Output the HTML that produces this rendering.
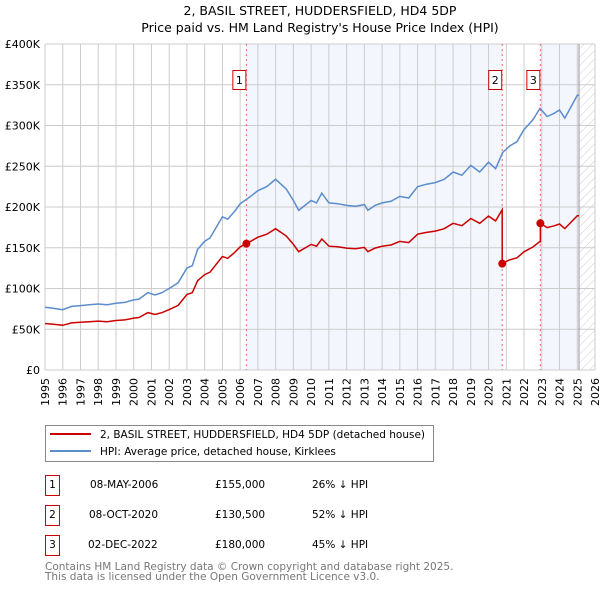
<!DOCTYPE html>
<html><head><meta charset="utf-8"><style>
body{margin:0;background:#fff;font-family:"DejaVu Sans","Liberation Sans",sans-serif;}
svg text{font-family:"DejaVu Sans","Liberation Sans",sans-serif;}
</style></head><body>
<svg id="chart" width="600" height="590" xmlns="http://www.w3.org/2000/svg">
<defs><pattern id="hatch" width="6" height="6" patternUnits="userSpaceOnUse" patternTransform="rotate(45)"><line x1="0" y1="0" x2="0" y2="6" stroke="#ccc" stroke-width="1"/></pattern></defs>
<text x="320" y="15" font-size="12.5" text-anchor="middle">2, BASIL STREET, HUDDERSFIELD, HD4 5DP</text>
<text x="320" y="32" font-size="12.5" text-anchor="middle">Price paid vs. HM Land Registry's House Price Index (HPI)</text>
<g id="plot"></g>
<rect x="45.5" y="425.5" width="388" height="36" fill="#fff" stroke="#888"/>
<line x1="50" y1="434" x2="91" y2="434" stroke="#cc0000" stroke-width="2"/>
<text x="100" y="438" font-size="10.5">2, BASIL STREET, HUDDERSFIELD, HD4 5DP (detached house)</text>
<line x1="50" y1="451" x2="91" y2="451" stroke="#5b8ccc" stroke-width="2"/>
<text x="100" y="455" font-size="10.5">HPI: Average price, detached house, Kirklees</text>
<g font-size="10.5">
<rect x="45.5" y="475.5" width="14" height="20" fill="#fff" stroke="#c00"/><text x="52.5" y="488" text-anchor="middle">1</text>
<text x="90" y="488">08-MAY-2006</text><text x="215" y="488">£155,000</text><text x="312" y="488">26% ↓ HPI</text>
<rect x="45.5" y="505.5" width="14" height="20" fill="#fff" stroke="#c00"/><text x="52.5" y="518" text-anchor="middle">2</text>
<text x="89" y="518">08-OCT-2020</text><text x="215" y="518">£130,500</text><text x="312" y="518">52% ↓ HPI</text>
<rect x="45.5" y="535.5" width="14" height="20" fill="#fff" stroke="#c00"/><text x="52.5" y="548" text-anchor="middle">3</text>
<text x="88" y="548">02-DEC-2022</text><text x="215" y="548">£180,000</text><text x="312" y="548">45% ↓ HPI</text>
</g>
<text x="45" y="570" font-size="10.5" fill="#777">Contains HM Land Registry data © Crown copyright and database right 2025.</text>
<text x="45" y="580" font-size="10.5" fill="#777">This data is licensed under the Open Government Licence v3.0.</text>
</svg>
<script>
const hpiYears=[1995,1995.4,1996,1996.5,1997,1997.5,1998,1998.5,1999,1999.5,2000,2000.3,2000.8,2001.2,2001.6,2002,2002.5,2003,2003.3,2003.6,2004,2004.3,2005,2005.3,2005.7,2006,2006.4,2007,2007.5,2008,2008.6,2009,2009.3,2010,2010.3,2010.6,2011,2011.5,2012,2012.5,2013,2013.2,2013.6,2014,2014.5,2015,2015.5,2016,2016.5,2017,2017.5,2018,2018.5,2019,2019.5,2020,2020.4,2020.8,2021.2,2021.6,2022,2022.5,2022.9,2023.3,2023.7,2024,2024.3,2025,2025.1];
const hpiValues=[77,76,74,78,79,80,81,80,82,83,86,87,95,92,95,100,107,125,128,148,158,162,188,185,195,204,210,220,225,234,222,208,196,208,205,217,205,204,202,201,203,196,202,205,207,213,211,225,228,230,234,243,239,251,243,255,247,267,275,280,295,307,321,311,315,319,309,337,337];
const saleYears=[2006.35,2020.77,2022.92];
const salePrices=[155,130.5,180];
const saleLabels=["1","2","3"];
const yTicks=[0,50,100,150,200,250,300,350,400];
const yTickLabels=["£0","£50K","£100K","£150K","£200K","£250K","£300K","£350K","£400K"];
const xYears=[];for(let y=1995;y<=2026;y++)xYears.push(y);

const X=y=>45+(y-1995)*550/31;
const Y=v=>370-v*326/400;
const NS="http://www.w3.org/2000/svg";
const g=document.getElementById('plot');
function mk(t,a){const e=document.createElementNS(NS,t);for(const k in a)e.setAttribute(k,a[k]);g.appendChild(e);return e;}
function hpiAt(t){for(let i=0;i<hpiYears.length-1;i++){if(t>=hpiYears[i]&&t<=hpiYears[i+1]){const f=(t-hpiYears[i])/(hpiYears[i+1]-hpiYears[i]);return hpiValues[i]+f*(hpiValues[i+1]-hpiValues[i]);}}return hpiValues[hpiValues.length-1];}

let r=mk('rect',{x:X(saleYears[0]),y:44,width:X(saleYears[1])-X(saleYears[0]),height:326,fill:'#eef2fc',opacity:0.7});

r=mk('rect',{x:X(saleYears[2]),y:44,width:X(2025.1)-X(saleYears[2]),height:326,fill:'#eef2fc',opacity:0.7});

r=mk('rect',{x:X(2025.1),y:44,width:X(2026)-X(2025.1),height:326,fill:'url(#hatch)'});


xYears.forEach(yr=>{
 const l=mk('line',{x1:X(yr),x2:X(yr),y1:44,y2:370,stroke:'#ccc','stroke-width':1});
 
 const t=mk('text',{x:0,y:0,'font-size':11,'text-anchor':'end',transform:`translate(${X(yr)+4},378) rotate(-90)`});
 t.textContent=yr;
 
});
yTicks.forEach((v,i)=>{
 const l=mk('line',{x1:45,x2:595,y1:Y(v),y2:Y(v),stroke:'#ccc','stroke-width':1});
 
 const t=mk('text',{x:40,y:Y(v)+4,'font-size':11,'text-anchor':'end'});
 t.textContent=yTickLabels[i];
 
});
let b=mk('line',{x1:X(2025.1),x2:X(2025.1),y1:44,y2:370,stroke:'#999','stroke-width':1});


saleYears.forEach((s,i)=>{
 const l=mk('line',{x1:X(s),x2:X(s),y1:44,y2:370,stroke:'#e66','stroke-width':1,'stroke-dasharray':'2,3'});
 
});

let d='';hpiYears.forEach((y,i)=>{d+=(i?'L':'M')+X(y).toFixed(1)+','+Y(hpiValues[i]).toFixed(1);});
let p=mk('path',{d:d,fill:'none',stroke:'#5b8ccc','stroke-width':1.5});


function factorAt(t){let k=0;for(let i=0;i<saleYears.length;i++)if(t>=saleYears[i])k=i;return salePrices[k]/hpiAt(saleYears[k]);}
const pts=[];
const times=hpiYears.concat(saleYears).sort((a,b)=>a-b);
times.forEach(t=>{
 const si=saleYears.indexOf(t);
 if(si>0){pts.push([t,hpiAt(t)*salePrices[si-1]/hpiAt(saleYears[si-1])]);}
 pts.push([t,hpiAt(t)*factorAt(t)]);
});
d='';pts.forEach((q,i)=>{d+=(i?'L':'M')+X(q[0]).toFixed(1)+','+Y(q[1]).toFixed(1);});
p=mk('path',{d:d,fill:'none',stroke:'#cc0000','stroke-width':1.5});


saleYears.forEach((s,i)=>{
 const c=mk('circle',{cx:X(s),cy:Y(salePrices[i]),r:4,fill:'#cc0000'});
 
 const bx=mk('rect',{x:X(s)-13.5,y:70.5,width:13,height:19,fill:'#fff',stroke:'#c00'});
 
 const t=mk('text',{x:X(s)-7,y:84,'font-size':11,'text-anchor':'middle'});
 t.textContent=saleLabels[i];
 
});
</script>
</body></html>
